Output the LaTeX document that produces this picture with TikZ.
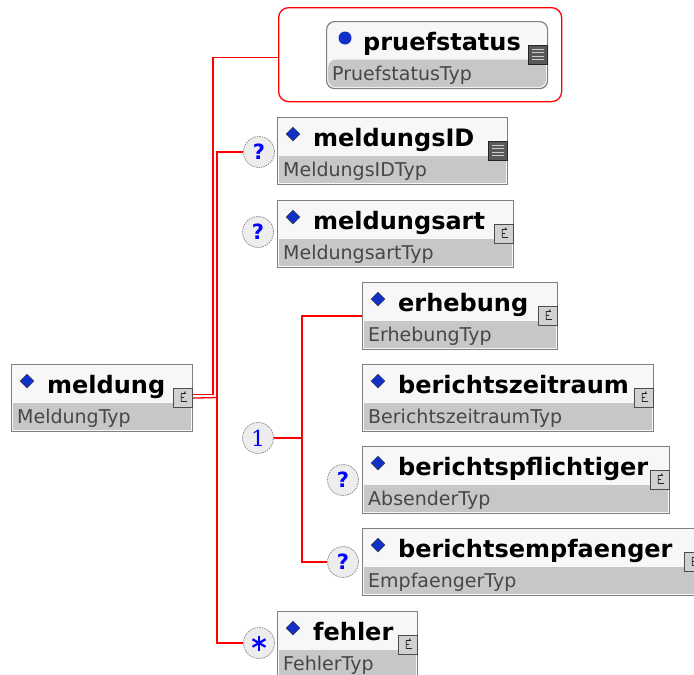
\documentclass[tikz,border=0pt]{standalone}
\usepackage{fontspec}
\setmainfont{DejaVu Sans}
\newfontfamily\numfont{DejaVu Serif}
\usetikzlibrary{positioning,calc,shapes.geometric}
\definecolor{diablue}{RGB}{16,48,200}
\definecolor{qblue}{RGB}{0,0,255}
\tikzset{elem/.style={draw=black!50,line width=1.2pt,fill=black!3,anchor=north west,minimum height=67pt,inner sep=0pt,
           path picture={\fill[black!22] ([shift={(1.5pt,29pt)}]path picture bounding box.south west) rectangle ([shift={(-1.5pt,1.5pt)}]path picture bounding box.south east);}},
         frame/.style={draw=red,line width=1.3pt,rounded corners=10pt,anchor=north west,minimum width=283pt,minimum height=94pt,inner sep=0pt},
         dia/.style={diamond,fill=diablue,draw=black!75,line width=0.5pt,inner sep=0pt,minimum size=14pt},
         dot/.style={circle,fill=diablue,inner sep=0pt,minimum size=13pt},
         elname/.style={anchor=base west,inner sep=0pt,font=\bfseries\fontsize{24}{24}\selectfont},
         eltype/.style={anchor=base west,inner sep=0pt,text=black!72,font=\fontsize{19}{19}\selectfont},
         cicon/.style={draw=black!70,fill=black!18,line width=0.9pt,minimum size=19pt,inner sep=0pt,
           path picture={\draw[black!85,line width=0.9pt] ([shift={(3pt,4pt)}]path picture bounding box.center) -- ++(-5pt,0) -- ++(0,-8pt) -- ++(6pt,0)
             ([shift={(-2pt,0pt)}]path picture bounding box.center) -- ++(3pt,0) ([shift={(1pt,4pt)}]path picture bounding box.center) -- ++(1pt,2pt);}},
         sicon/.style={draw=black!85,fill=black!65,line width=0.9pt,minimum size=19pt,inner sep=0pt,
           path picture={\foreach \d in {-5,-1.7,1.7,5}
             \draw[black!20,line width=1.2pt] ([shift={(-6pt,\d pt)}]path picture bounding box.center) -- ++(12pt,0);}},
         occur/.style={circle,draw=black!45,dash pattern=on 1.5pt off 1pt,line width=0.8pt,fill=black!7,minimum size=31pt,inner sep=0pt,
           text=qblue,font=\bfseries\fontsize{21}{21}\selectfont},
         asterisk/.style={path picture={\foreach \a in {90,30,-30}
             \draw[qblue,solid,line width=2.2pt] ([shift={(\a:7.5pt)}]path picture bounding box.center) -- ([shift={(\a+180:7.5pt)}]path picture bounding box.center);}},
         conn/.style={draw=red,line width=1.3pt}
}
\newcommand{\elembox}[6]{%
  \node[elem,minimum width=#3] (#1) at (#2) {};
  \node[dia] (#1-mark) at ([shift={(16pt,-17pt)}]#1.north west) {};
  \node[elname] (#1-name) at ([shift={(36pt,-29pt)}]#1.north west) {#4};
  \node[eltype] (#1-type) at ([shift={(6pt,-59pt)}]#1.north west) {#5};
  \node[#6] (#1-icon) at ([shift={(-10pt,-33.5pt)}]#1.north east) {};
}
\begin{document}
\begin{tikzpicture}[x=1pt,y=-1pt]
\useasboundingbox (0,0) rectangle (694,675);

% pruefstatus in its red frame
\node[frame] (frame) at (278,7) {};
\node[elem,rounded corners=8pt,minimum width=221pt] (pruefstatus) at (326,21) {};
\node[dot] (pruefstatus-mark) at ([shift={(19pt,-17pt)}]pruefstatus.north west) {};
\node[elname] (pruefstatus-name) at ([shift={(37pt,-29pt)}]pruefstatus.north west) {pruefstatus};
\node[eltype] (pruefstatus-type) at ([shift={(6pt,-59pt)}]pruefstatus.north west) {PruefstatusTyp};
\node[sicon] (pruefstatus-icon) at ([shift={(-10pt,-33.5pt)}]pruefstatus.north east) {};

% elements
\elembox{meldung}{11,364}{181pt}{meldung}{MeldungTyp}{cicon}
\elembox{meldungsID}{277,117}{230pt}{meldungsID}{MeldungsIDTyp}{sicon}
\elembox{meldungsart}{277,200}{236pt}{meldungsart}{MeldungsartTyp}{cicon}
\elembox{erhebung}{362,282}{195pt}{erhebung}{ErhebungTyp}{cicon}
\elembox{zeitraum}{362,364}{291pt}{berichtszeitraum}{BerichtszeitraumTyp}{cicon}
\elembox{pflichtiger}{362,446}{307pt}{berichtspflichtiger}{AbsenderTyp}{cicon}
\elembox{empfaenger}{362,528}{341pt}{berichtsempfaenger}{EmpfaengerTyp}{cicon}
\elembox{fehler}{277,611}{140pt}{fehler}{FehlerTyp}{cicon}

% occurrence marks
\node[occur] (qID) at (259,152) {?};
\node[occur] (qArt) at (258,232) {?};
\node[occur,font=\numfont\fontsize{22}{22}\selectfont] (choice) at (258,438) {1};
\node[occur] (qPfl) at (343,480) {?};
\node[occur] (qEmpf) at (343,562) {?};
\node[occur,asterisk] (qFehler) at (259,643) {};

% connectors
\coordinate (busA) at (213,394);
\coordinate (busB) at (217,397.5);
\coordinate (busC) at (302,438);
\draw[conn] ([yshift=3.5pt]meldung.east) -| (busA) |- ([yshift=-3pt]frame.west);
\draw[conn] (meldung.east) -- (busB);
\draw[conn] (qID.west) -| (busB) |- (qFehler.west);
\draw[conn] (erhebung.west) -| (busC) |- (qEmpf.west);
\draw[conn] (choice.east) -- (busC);

\end{tikzpicture}
\end{document}
